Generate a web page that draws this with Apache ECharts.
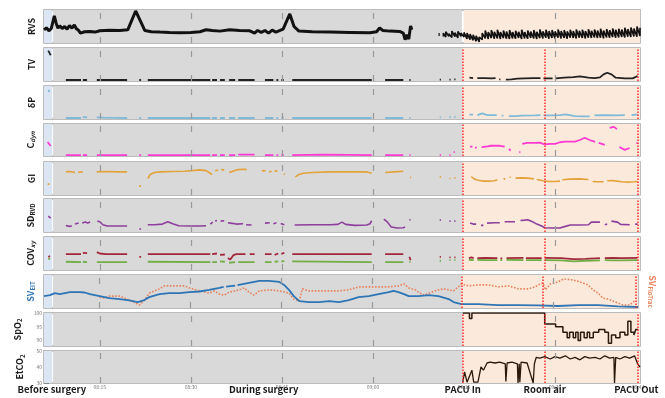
<!DOCTYPE html>
<html>
<head>
<meta charset="utf-8">
<script src="https://cdn.jsdelivr.net/npm/echarts@6/dist/echarts.min.js"></script>
<style>
  html, body { margin: 0; padding: 0; background: #fff; }
  #chart { width: 665px; height: 398px; }
</style>
</head>
<body>
<div id="chart"></div>
<script>
// time axis in minutes after 08:00
const tStart = 5.8
const tEnd = 104
const surgeryStart = 7.3
const pacuIn = 74.8
const roomAir = 88.3
const pacuOut = 103.7
const gridTimes = [15, 30, 45, 60, 90]
const tickTimes = [15, 30, 45, 60, 75, 90, 103.7]
const tickLabels = ['08:15', '08:30', '08:45', '09:00', '09:15', '09:30', '09:44']
const phaseTimes = [7.1, 42, 74.8, 88.3, 103.4]
const phaseNames = ['Before surgery', 'During surgery', 'PACU In', 'Room air', 'PACU Out']

// null = gap in the recording
const rvsData = [
  [5.8, 40], [6.2, 46], [6.6, 37], [7.0, 44], [7.3, 40], [7.5, 82], [7.8, 60], [8.1, 45], [8.4, 52], [8.8, 44],
  [9.2, 50], [9.6, 42], [10.0, 53], [10.4, 45], [10.8, 55], [11.1, 44], [11.5, 38], [11.8, 30], [12.5, 34], [13.4, 35],
  [14.2, 33], [15, 37], [16.6, 39], [18.3, 38], [19.6, 40], [20.9, 97], [21.6, 70], [22.4, 38], [23.5, 34], [24.9, 33],
  [26.5, 32], [28.2, 31], [30, 32], [31.5, 34], [32.5, 40], [33.5, 38], [34.8, 36], [36.4, 40], [38, 38], [39.7, 37],
  [40.5, 30], [41, 38], [41.6, 32], [42.2, 38], [42.8, 30], [43.4, 39], [44, 33], [44.7, 38], [45.2, 42], [46.3, 88],
  [47, 50], [47.8, 36], [50, 34], [53, 33], [56.2, 32], [59.5, 31], [60.6, 34], [61.1, 46], [61.6, 38], [62.8, 36],
  [64.4, 35], [65, 30], [65.3, 10], [65.6, 25], [65.9, 12], [66.2, 52], [66.4, 40], null,
  [70.8, 26], [71, 26]
]

// noisy end of the RVS trace: [time, lower edge, upper edge]
const rvsBand = [
  [71.6, 20, 30], [72, 18, 34], [72.5, 20, 28], [73, 17, 36], [73.5, 19, 31], [74, 16, 35], [74.5, 20, 30], [74.8, 24, 34],
  [75, 18, 32], [75.5, 12, 30], [76, 10, 27], [76.5, 8, 25], [77, 5, 22], [77.5, 3, 18], [78, 10, 30], [78.5, 14, 38],
  [79, 12, 33], [79.5, 15, 39], [80, 13, 34], [80.5, 14, 40], [81, 12, 33], [81.5, 15, 38], [82, 13, 35], [82.5, 12, 39],
  [83, 14, 33], [83.5, 13, 37], [84, 15, 34], [84.5, 12, 40], [85, 14, 33], [85.5, 13, 38], [86, 15, 35], [86.5, 14, 39],
  [87, 12, 34], [87.5, 15, 41], [88, 14, 35], [88.5, 16, 40], [89, 13, 36], [89.5, 15, 39], [90, 14, 35], [90.5, 16, 41],
  [91, 14, 36], [91.5, 15, 39], [92, 13, 35], [92.5, 16, 40], [93, 15, 36], [93.5, 14, 41], [94, 16, 37], [94.5, 15, 40],
  [95, 14, 36], [95.5, 16, 42], [96, 15, 37], [96.5, 17, 41], [97, 15, 38], [97.5, 16, 43], [98, 14, 38], [98.5, 17, 42],
  [99, 16, 39], [99.5, 18, 44], [100, 16, 40], [100.5, 17, 43], [101, 18, 41], [101.5, 17, 46], [102, 19, 42],
  [102.5, 18, 47], [103, 20, 44], [103.5, 19, 50], [104, 21, 46]
]

const tvData = [
  [6.5, 92], [6.7, 85], [6.9, 78], null,
  [9.4, 3], [11.9, 3], null, [12.2, 3], [12.9, 3], null, [14.5, 3], [19.5, 3], null, [21.5, 3], [21.8, 3], null,
  [22.9, 3], [33.2, 3], null, [33.5, 3], [34.3, 3], null, [34.8, 3], [35.6, 3], null, [36.3, 3], [37.3, 3], null,
  [37.8, 3], [40.5, 3], null, [42.2, 3], [43.6, 3], null, [44.1, 3], [44.4, 3], null, [44.9, 3], [45.3, 3], null,
  [46.7, 3], [59.8, 3], null, [62, 3], [65, 3], null, [66, 3], [66.2, 3], null,
  [71, 4], [71.2, 4], null, [72.6, 4], [72.8, 4], null, [73.4, 5], [73.6, 5], null,
  [75.9, 10], [76.5, 9], null, [77.2, 9], [78.5, 9], [79.5, 8], [80.2, 9], null, [80.8, 5], [81, 5], null,
  [81.9, 4], [82.8, 5], [83.8, 7], [85, 8], [86.5, 9], [87.6, 9], null, [88.1, 8], [89.6, 8], null,
  [90.1, 8], [91.5, 10], [93, 12], [94.1, 14], [95.5, 10], [96.5, 9], [97.4, 11], [98, 20], [98.6, 25],
  [99.3, 20], [100, 10], [101.5, 8], [102.8, 8], [103.6, 15]
]

const dpData = [
  [6.5, 88], [6.7, 82], null,
  [9.4, 3], [11.9, 3], null, [12.2, 5], [12.6, 6], [12.9, 4], null, [14.5, 4], [15, 6], [15.5, 4], [19.5, 3], null,
  [21.5, 3], [21.8, 3], null, [22.9, 3], [33.2, 3], null, [33.5, 3], [34.3, 3], null, [34.8, 3], [35.6, 3], null,
  [36.3, 3], [37.3, 3], null, [37.8, 3], [40.5, 3], null, [42.2, 3], [43.6, 3], null, [44.1, 3], [44.4, 3], null,
  [44.9, 4], [45.3, 4], null, [46.7, 3], [59.8, 3], null, [62, 3], [65, 3], null, [66, 3], [66.2, 3], null,
  [71, 5], [71.2, 5], null, [72.6, 6], [72.8, 6], null, [73.4, 6], [73.6, 6], null,
  [75.9, 13], [76.5, 13], null, [77.2, 12], [78, 17], [78.8, 12], [80.4, 12], null, [81.2, 10], [81.5, 10], null,
  [82.4, 9], [83.5, 9], [84.5, 10], [86.7, 11], [87.6, 12], null, [88.1, 11], [89.5, 11], [90.8, 12], [91.7, 14],
  [93.3, 9], [94.5, 8], [95.7, 8], null, [96.5, 11], [98, 12], [100, 11], [101.5, 12], null, [102.6, 12], [103.6, 14]
]

const cdynData = [
  [6.4, 44], [6.6, 38], [6.9, 31], null,
  [9.4, 3], [11.9, 3], null, [12.2, 3], [12.9, 3], null, [14.5, 3], [19.5, 3], null, [21.5, 3], [21.8, 3], null,
  [22.9, 3], [33.2, 3], null, [33.5, 3], [34.3, 3], null, [34.8, 3], [35.6, 3], null, [36.3, 3], [37.3, 3], null,
  [37.8, 4], [40.5, 4], null, [42.2, 3], [43.6, 3], null, [44.1, 3], [44.4, 3], null, [44.9, 3], [45.3, 3], null,
  [46.7, 3], [52, 4], [59.8, 3], null, [62, 3], [65, 3], null, [66, 3], [66.2, 3], null,
  [71, 3], [71.2, 3], null, [72.6, 3], [72.8, 3], null, [73.3, 12], [73.5, 12], null,
  [76, 29], [76.4, 29], null, [76.8, 26], [77.1, 26], null, [77.9, 28], [78.9, 30], [79.5, 32], [80.9, 32], [81.7, 29], null,
  [82.4, 22], [82.7, 17], null, [84.1, 12], [84.3, 12], null, [84.6, 38], [85.4, 41], [86.7, 41], [87.5, 42],
  [88.3, 36], [89.2, 38], [90, 38], [90.8, 43], [91.7, 45], [93.3, 45], [94.1, 50], [94.9, 57], [95.7, 50], [96.6, 44], null,
  [97.2, 41], [98.2, 35], null, [99, 88], [99.7, 91], [100.2, 84], null, [100.6, 28], [101.5, 19], [102.3, 25], null,
  [103.4, 40], [103.6, 40]
]

const giData = [
  [6.4, 33], [6.7, 33], null,
  [9.4, 70], [10, 71], [10.9, 68], null, [11.4, 69], [12.2, 70], null, [14.5, 70], [16, 71], [18, 70], [19.5, 70], null,
  [21.5, 27], [21.8, 27], null,
  [22.9, 50], [23.3, 62], [24, 68], [25, 70], [27, 71], [29, 72], [31.5, 76], [32.5, 74], [33.5, 62], null,
  [34, 74], [34.5, 75], null, [35, 77], [35.5, 76], null, [36.3, 68], [36.6, 72], [37.5, 76], [38.5, 78], [39.2, 77], null,
  [41.7, 73], [42.3, 74], null, [42.9, 70], [43.3, 72], null, [43.8, 73], [44.3, 72], null, [45.3, 64], [45.5, 62], null,
  [47.2, 55], [47.8, 62], [48.5, 66], [50, 68], [53, 70], [56, 70], [59, 70], [59.8, 66], null,
  [62, 68], [63.5, 70], [65, 72], null, [66.1, 53], [66.3, 53], null,
  [71, 55], [71.2, 55], null, [72.6, 50], [72.8, 50], null, [73.4, 52], [73.6, 52], null,
  [76.2, 56], [76.6, 50], [77, 46], [77.6, 44], [78.2, 42], [79, 42], [80, 43], [80.5, 46], null, [81.5, 49], [81.8, 49], null,
  [82.5, 54], [82.7, 54], null, [83.5, 51], [84.5, 52], [85.5, 51], [86.5, 49], null,
  [87, 47], [88, 43], [89, 41], [90, 41], [90.8, 42], null, [91.2, 46], [92.5, 48], [94, 49], [95.5, 47], null,
  [96.2, 41], [97, 40], [98, 40], null, [98.6, 43], [99.5, 44], [100.2, 42], [101, 40], [102, 39], [103, 40], [103.6, 41]
]

const sdData = [
  [6.5, 48], [6.9, 42], null,
  [9.4, 20], [10, 17], [10.4, 18], null, [10.9, 24], [11.5, 27], null, [12.1, 27], [12.6, 30], [13, 27], [13.4, 30], null,
  [14.6, 33], [15, 31], [15.5, 22], [16.2, 18], [18, 18], [19.5, 18], null, [21.5, 9], [21.8, 9], null,
  [22.9, 22], [24, 22], [25.3, 24], [26.2, 31], [27, 25], [28, 19], [30, 18], [31.5, 18], [32.5, 19], null,
  [33.2, 24], [33.6, 30], null, [34, 33], [34.3, 35], null, [34.9, 33], [35.5, 34], null,
  [36.1, 28], [36.5, 27], [37.5, 24], [38.6, 25], null, [39.1, 22], [40, 21], null,
  [42.2, 27], [43, 28], null, [43.6, 25], [44.1, 28], null, [44.8, 26], [45.4, 22], null,
  [47.1, 21], [50, 22], [53, 22], [54.2, 23], [54.9, 30], [55.5, 23], [57, 20], [59, 21], [59.5, 25], [59.8, 34], null,
  [61.8, 39], [62.4, 30], [63, 15], [64, 12], [65, 13], [65.3, 15], null, [66, 36], [66.2, 38], null,
  [71, 36], [71.2, 36], null, [72.6, 33], [72.8, 33], null, [73.4, 33], [73.6, 33], null,
  [76, 27], [76.5, 24], [77, 24], null, [77.8, 20], [78.2, 20], null, [78.8, 27], [80, 28], [80.9, 28], null,
  [81.7, 31], [82.6, 31], [83.4, 31], null, [84.3, 35], [85, 36], [85.5, 37], [86.4, 30], [87, 24], [87.8, 18],
  [88.3, 13], [89.5, 12], [90.8, 12], [91.7, 17], [92.5, 21], [94, 21], [95.5, 22], [96, 30], [97.4, 30], null,
  [98.2, 22], [98.6, 24], null, [99.3, 33], [100.3, 30], [100.8, 23], [102.3, 22], null, [103.2, 24], [103.6, 24]
]

const covRedData = [
  [6.5, 40], [6.8, 42], null,
  [9.4, 48], [10.5, 48], [11.9, 48], null, [12.2, 52], [12.9, 51], null, [14.5, 54], [15, 50], [16, 48], [19.5, 48], null,
  [21.5, 40], [21.8, 40], null, [22.9, 48], [33.2, 48], null, [33.5, 48], [34.3, 50], null, [34.8, 46], [35.6, 47], null,
  [36.1, 36], [36.5, 32], [37, 45], [37.5, 48], [39, 48], null, [39.7, 48], [40.5, 48], null,
  [42.2, 48], [43.3, 48], null, [43.8, 46], [44.4, 50], null, [44.9, 49], [45.4, 52], null,
  [46.7, 48], [59.8, 48], null, [62, 48], [65, 48], null, [66, 40], [66.2, 30], null,
  [71, 40], [71.2, 40], null, [72.6, 38], [72.8, 38], null, [73.4, 38], [73.6, 38], null,
  [75.8, 36], [76.2, 38], [76.6, 36], null, [77.2, 36], [78.5, 37], [80.5, 36], null, [81, 35], [81.3, 35], null,
  [82, 36], [84.8, 37], null, [85.2, 36], [87.8, 36], null, [88.3, 37], [91, 36], [93, 33], [95, 34], [97.4, 36], null,
  [98.2, 36], [99.5, 37], [101, 36], [103.6, 37]
]

const covGreenData = [
  [6.5, 35], [6.8, 33], null,
  [9.4, 25], [11.9, 24], null, [12.2, 25], [12.9, 24], null, [14.5, 24], [19.5, 24], null,
  [22.9, 25], [33.2, 24], null, [33.5, 24], [34.3, 24], null, [34.8, 26], [35.6, 25], null, [36.3, 22], [37.3, 24], null,
  [37.8, 24], [40.5, 24], null, [42.2, 24], [43.3, 24], null, [43.8, 25], [44.4, 26], null, [44.9, 26], [45.4, 27], null,
  [46.7, 26], [59.8, 24], null, [62, 24], [65, 24], null, [66, 25], [66.2, 25], null,
  [71, 28], [71.2, 28], null, [72.6, 30], [72.8, 30], null, [73.4, 30], [73.6, 30], null,
  [75.8, 31], [76.6, 30], null, [77.2, 31], [78.5, 30], [80.5, 30], null, [81, 30], [81.3, 30], null,
  [82, 31], [84.8, 30], null, [85.2, 30], [87.8, 30], null, [88.3, 30], [91, 29], [93, 26], [95, 28], [97.4, 29], null,
  [98.2, 30], [99.5, 29], [101, 29], [103.6, 30]
]

const svEitData = [
  [5.8, 36], [6.8, 39], [7.6, 45], [8.4, 42], [10.1, 48], [11.7, 48], [12.5, 47], [13.4, 42], [15, 36], [16.6, 30],
  [18.3, 27], [19.9, 23], [21.3, 18], [22.4, 24], [23.2, 33], [24.9, 42], [26.5, 45], [28.2, 45], [29.8, 48], [31.5, 50],
  [33.1, 55], [34.8, 61], [35.5, 64], null, [35.9, 65], [37.4, 68], null, [37.8, 69], [38.1, 70], [39.7, 76], [41.4, 82],
  [43, 82], [44.7, 79], [45.5, 70], [46.3, 55], [47.1, 36], [48, 21], [49.6, 18], [51.3, 18], [52.9, 21], [54.6, 18],
  [56.2, 24], [57.8, 33], [59.5, 36], [61.1, 42], [62.8, 48], [63.6, 52], [64.4, 48], [65.3, 42], [66.1, 36], [67.7, 36],
  [69.4, 39], [71, 36], [72.7, 27], [73.5, 18], [74.8, 12], [77.6, 12], [80.9, 9], [84.2, 9], [87.5, 8], [90.8, 6],
  [94.1, 9], [97.4, 9], [100.7, 5], [104, 3]
]

const svFloData = [
  [15, 33], [15.8, 30], [16.6, 36], [18.3, 36], [19.9, 24], [21.6, 9], [22.4, 24], [23.2, 45], [24.9, 58], [25.7, 67],
  [27.4, 67], [29, 67], [29.8, 61], [31.5, 52], [33.1, 45], [34, 52], [34.8, 42], [35.6, 39], [36.4, 48], [38.1, 55],
  [38.9, 61], [39.7, 48], [40.5, 39], [41.4, 52], [43, 55], [44.7, 52], [46.3, 45], [47.1, 27], [48, 21], [48.5, 58],
  [49.6, 52], [51.3, 52], [54.6, 52], [56.2, 55], [57.8, 64], [61.1, 64], [62.8, 64], [64.4, 67], [65.3, 73], [66.1, 61],
  [67.2, 55], [67.7, 48], [68.6, 39], [69.4, 45], [71, 55], [71.9, 58], [73.5, 52], [74.3, 64], [74.8, 73], [76, 67],
  [77.6, 70], [79.3, 70], [80.9, 64], [82.6, 67], [84.2, 58], [85.9, 58], [87, 64], [87.5, 70], [88.3, 76], [88.7, 55],
  [89.5, 73], [90.8, 79], [91.7, 88], [93.3, 85], [94.9, 76], [95.7, 70], [96.6, 55], [97.4, 45], [98.2, 30], [99, 27],
  [100.3, 18], [101.5, 9], [102.6, 9], [103.6, 24]
]

// SpO2 level changes (value held until the next time)
const spo2Data = [
  [74.8, 100], [75.9, 98], [76.3, 100], [88.3, 96], [90.1, 95], [91.3, 93], [92, 91], [92.4, 93], [93, 91], [93.4, 93],
  [93.8, 90], [94.2, 93], [94.8, 91], [95.3, 93], [95.7, 91], [96.3, 93], [97.2, 94], [98.2, 93], [98.8, 89], [99.3, 92],
  [100, 91], [100.7, 93], [101.5, 92], [102, 97], [102.5, 93], [103, 92], [103.3, 94], [103.7, 94]
]

const etco2Data = [
  [74.8, 30.5], [75.1, 37], [75.5, 30.5], [76.3, 38], [76.6, 30.5], [77.3, 30.5], [77.8, 40], [78.2, 38], [78.8, 42.5],
  [79.3, 43], [80.1, 42.5], [80.9, 43], [81.8, 42], [81.9, 31], [82.1, 42.5], [82.9, 43], [83.8, 42], [83.9, 30],
  [84.1, 42], [84.2, 30.5], [84.4, 43], [85.4, 42.5], [86.4, 30], [86.6, 42], [86.9, 46], [87.5, 45.5], [88.3, 46.5],
  [89.2, 45], [90, 46.5], [90.8, 45.5], [91.7, 47], [92.5, 45], [93.3, 46], [94.1, 44.5], [94.9, 46.5], [95.7, 45.5],
  [96.6, 46], [97.4, 45], [98.2, 47], [99, 45.5], [99.7, 46], [99.8, 30], [100, 46], [100.7, 45], [101.5, 46.5],
  [102.3, 45.5], [103.1, 47], [103.6, 42], [104, 40]
]

const spo2Ticks = [90, 95, 100]
const etco2Ticks = [30, 40, 50]

// ---- layout ----
const rich = {
  b: { fontSize: 9, fontWeight: 'bold', color: '#1a1a1a' },
  s: { fontSize: 6, fontWeight: 'bold', color: '#1a1a1a', verticalAlign: 'bottom', padding: [5, 0, 0, 0] },
  si: { fontSize: 6, fontWeight: 'bold', fontStyle: 'italic', color: '#1a1a1a', verticalAlign: 'bottom', padding: [5, 0, 0, 0] },
  bb: { fontSize: 9, fontWeight: 'bold', color: '#2e75b6' },
  sb: { fontSize: 6, fontWeight: 'bold', color: '#2e75b6', verticalAlign: 'bottom', padding: [5, 0, 0, 0] },
  ob: { fontSize: 9, fontWeight: 'bold', color: '#e8825a' },
  so: { fontSize: 6, fontWeight: 'bold', color: '#e8825a', verticalAlign: 'bottom', padding: [5, 0, 0, 0] }
}

const panels = [
  { name: '{b|RVS}', top: 10, height: 33, min: 0, max: 100 },
  { name: '{b|TV}', top: 48, height: 33, min: 0, max: 100 },
  { name: '{b|δP}', top: 86, height: 33, min: 0, max: 100 },
  { name: '{b|C}{si|dyn}', top: 124, height: 32, min: 0, max: 100 },
  { name: '{b|GI}', top: 162, height: 33, min: 0, max: 100 },
  { name: '{b|SD}{s|RVD}', top: 199, height: 33, min: 0, max: 100 },
  { name: '{b|COV}{si|xy}', top: 237, height: 33, min: 0, max: 100 },
  { name: '{bb|SV}{sb|EIT}', top: 275, height: 33, min: 0, max: 100 },
  { name: '{b|SpO}{s|2}', top: 313, height: 33, min: 88, max: 100, ticks: spo2Ticks },
  { name: '{b|EtCO}{s|2}', top: 351, height: 32, min: 30, max: 50, ticks: etco2Ticks }
]

function withGaps (arr) {
  return arr.map(p => (p === null ? ['-', '-'] : p))
}

const grids = panels.map(p => ({
  left: 44, right: 25, top: p.top, height: p.height,
  show: true, borderColor: '#a6a6a6', borderWidth: 1.5
}))

const xAxes = panels.map((p, i) => ({
  type: 'value', gridIndex: i, min: tStart, max: tEnd,
  axisLine: { show: false }, axisTick: { show: false }, splitLine: { show: false },
  axisLabel: {
    show: i === panels.length - 1,
    customValues: tickTimes,
    formatter: v => tickLabels[tickTimes.indexOf(v)],
    fontSize: 5, color: '#777', margin: 2
  }
}))
xAxes.push({
  type: 'value', gridIndex: panels.length - 1, min: tStart, max: tEnd, position: 'bottom',
  axisLine: { show: false }, axisTick: { show: false }, splitLine: { show: false },
  axisLabel: {
    customValues: phaseTimes,
    formatter: v => phaseNames[phaseTimes.indexOf(v)],
    fontSize: 9.5, fontWeight: 'bold', color: '#1a1a1a', margin: 2
  }
})

const yAxes = panels.map((p, i) => ({
  type: 'value', gridIndex: i, min: p.min, max: p.max,
  name: p.name, nameLocation: 'middle', nameRotate: 90, nameGap: 8,
  nameTextStyle: { rich: rich },
  axisLine: { show: !!p.ticks, lineStyle: { color: '#a6a6a6' } },
  axisTick: { show: !!p.ticks, inside: true, length: 5, customValues: p.ticks, lineStyle: { color: '#888' } },
  axisLabel: { show: !!p.ticks, customValues: p.ticks, fontSize: 5, color: '#777', margin: 2 },
  splitLine: { show: false }
}))
yAxes.push({
  type: 'value', gridIndex: 7, min: 0, max: 100, position: 'right',
  name: '{ob|SV}{so|FloTrac}', nameLocation: 'middle', nameRotate: -90, nameGap: 9,
  nameTextStyle: { rich: rich },
  axisLine: { show: false }, axisTick: { show: false }, axisLabel: { show: false }, splitLine: { show: false }
})

const series = []
panels.forEach((p, i) => {
  // background phases + dashed time grid
  series.push({
    type: 'line', xAxisIndex: i, yAxisIndex: i, data: [], z: 0, silent: true,
    markArea: {
      silent: true,
      data: [
        [{ xAxis: tStart, itemStyle: { color: '#dce6f2' } }, { xAxis: surgeryStart - 0.15 }],
        [{ xAxis: surgeryStart, itemStyle: { color: '#d9d9d9' } }, { xAxis: i === 0 ? pacuIn - 0.15 : pacuIn }],
        [{ xAxis: i === 0 ? pacuIn + 0.15 : pacuIn, itemStyle: { color: '#fbe9dc' } }, { xAxis: tEnd }]
      ]
    }
  })
  series.push({
    type: 'line', xAxisIndex: i, yAxisIndex: i, data: [], z: 1, silent: true,
    markLine: {
      silent: true, symbol: 'none', label: { show: false },
      lineStyle: { color: '#9a9a9a', type: [6, 18], width: 1.2 },
      data: gridTimes.map(t => ({ xAxis: t }))
    }
  })
  if (i > 0) {
    series.push({
      type: 'line', xAxisIndex: i, yAxisIndex: i, data: [], z: 5, silent: true,
      markLine: {
        silent: true, symbol: 'none', label: { show: false },
        lineStyle: { color: '#ff2a2a', type: 'dotted', width: 1.5 },
        data: [{ xAxis: pacuIn }, { xAxis: roomAir }, { xAxis: pacuOut }]
      }
    })
  }
})

function trace (idx, data, color, width, extra) {
  return Object.assign({
    type: 'line', xAxisIndex: idx, yAxisIndex: idx, data: withGaps(data),
    showSymbol: false, connectNulls: false, z: 3, silent: true,
    lineStyle: { color: color, width: width }
  }, extra || {})
}

series.push(trace(0, rvsData, '#111', 3))
// RVS noisy part: each sample drawn from its lower to its upper edge
series.push(trace(0, rvsBand.flatMap(r => [[r[0], r[1]], [r[0], r[2]]]), '#111', 1.6))
series.push(trace(1, tvData, '#222', 1.8))
series.push(trace(2, dpData, '#7fbad8', 1.8))
series.push(trace(3, cdynData, '#ff3ad2', 1.8))
series.push(trace(4, giData, '#e3a23a', 1.6))
series.push(trace(5, sdData, '#8d3f9c', 1.6))
series.push(trace(6, covRedData, '#a3283c', 1.8))
series.push(trace(6, covGreenData, '#72ad46', 1.8))
series.push(trace(7, svFloData, '#e8825a', 1.6, { lineStyle: { color: '#e8825a', width: 1.6, type: 'dotted' } }))
series.push(trace(7, svEitData, '#2e75b6', 1.8))
series.push(trace(8, spo2Data, '#2a1a0e', 1.5, { step: 'end' }))
series.push(trace(9, etco2Data, '#2a1a0e', 1.3))

const chart = echarts.init(document.getElementById('chart'))
chart.setOption({
  animation: false,
  backgroundColor: '#fff',
  textStyle: { fontFamily: 'Noto Sans CJK KR' },
  grid: grids,
  xAxis: xAxes,
  yAxis: yAxes,
  series: series
})
</script>
</body>
</html>
